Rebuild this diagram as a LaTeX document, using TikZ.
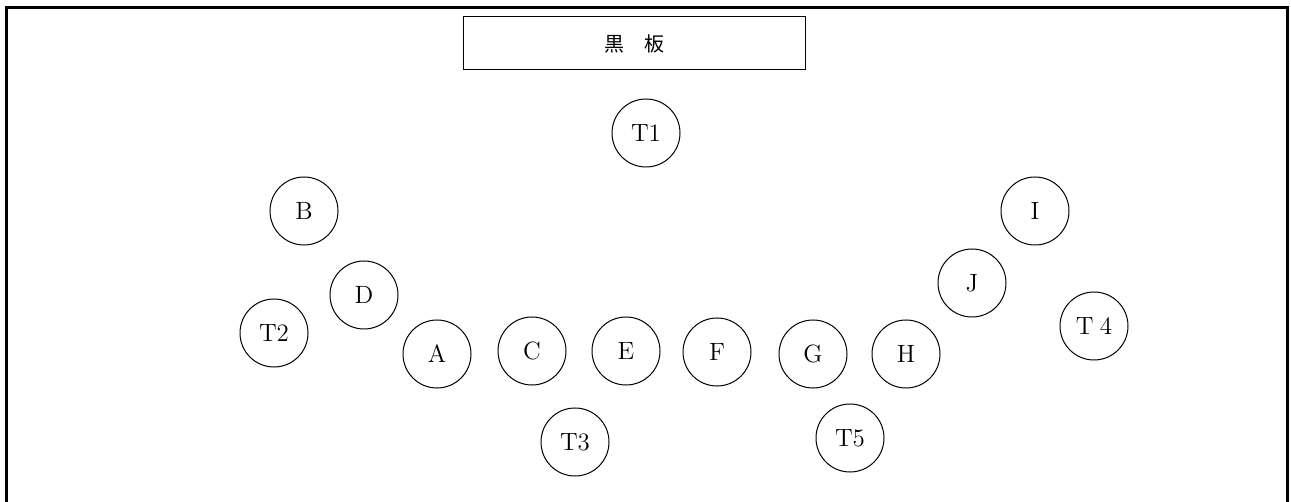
\documentclass[tikz,border=0pt]{standalone}
\usepackage{fontspec}
\newfontfamily\cjk{Noto Sans CJK JP}
\usetikzlibrary{positioning}
\tikzset{
  seat/.style={circle, draw, line width=0.5pt, minimum size=34pt, inner sep=0pt,
    font=\fontsize{12.5}{14}\selectfont},
  board/.style={rectangle, draw, line width=0.5pt, minimum width=171pt, minimum height=26.5pt,
    font=\cjk\fontsize{10}{12}\selectfont},
}
\begin{document}
\begin{tikzpicture}[x=0.5pt, y=-0.5pt]
  \useasboundingbox (0,0) rectangle (1291,502);

  % --- Marco del aula ---
  \draw[line width=1.5pt] (6,502) -- (6,7.5) -- (1287.5,7.5) -- (1287.5,502);

  % --- Pizarra ---
  \node (board) [board] at (634,43.5) {黒\hspace{1em}板};

  % --- Profesores ---
  \node (t1) [seat] at (646,133) {T1};
  \node (t2) [seat] at (274,333) {T2};
  \node (t3) [seat] at (575,442) {T3};
  \node (t4) [seat] at (1094,326) {T\hspace{0.25em}4};
  \node (t5) [seat] at (850,438) {T5};

  % --- Alumnos ---
  \node (b) [seat] at (304,211) {B};
  \node (d) [seat] at (364,295) {D};
  \node (a) [seat] at (437,354) {A};
  \node (c) [seat] at (532,351) {C};
  \node (e) [seat] at (626,351) {E};
  \node (f) [seat] at (717,352) {F};
  \node (g) [seat] at (813,354) {G};
  \node (h) [seat] at (906,354) {H};
  \node (j) [seat] at (972,283) {J};
  \node (i) [seat] at (1035,211) {I};

\end{tikzpicture}
\end{document}
